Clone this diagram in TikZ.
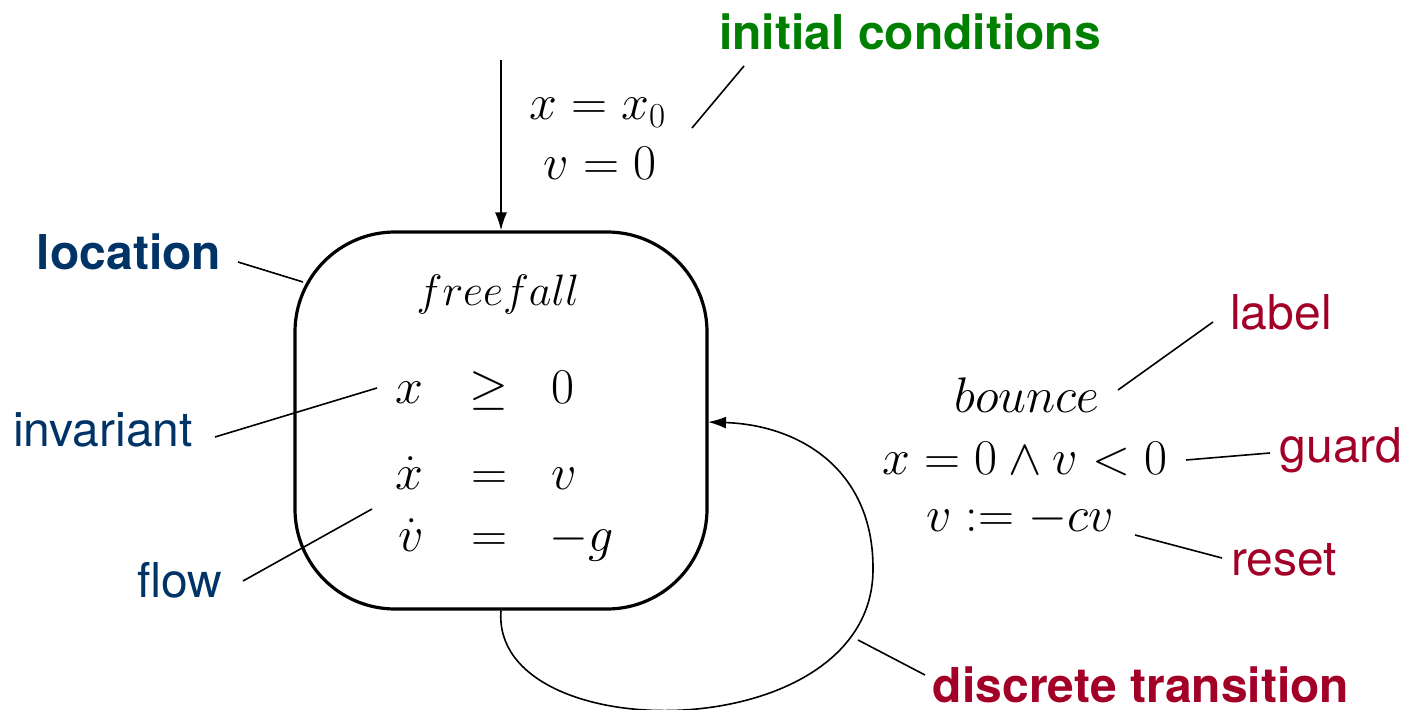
\RequirePackage{fix-cm}
\documentclass[tikz,border=0pt]{standalone}
\usepackage{amsmath}
\usepackage{fontspec}
\setsansfont{TeX Gyre Heros}
\usetikzlibrary{arrows.meta}
\definecolor{icgreen}{RGB}{0,128,0}
\definecolor{locblue}{RGB}{0,51,102}
\definecolor{trred}{RGB}{163,0,40}
\begin{document}
\begin{tikzpicture}[x=0.5pt,y=-0.5pt,
  lbl/.style={font=\sffamily\fontsize{24}{28}\selectfont, inner sep=0pt, anchor=base},
  blbl/.style={font=\sffamily\bfseries\fontsize{24}{28}\selectfont, inner sep=0pt, anchor=base},
  mth/.style={font=\fontsize{25}{30}\selectfont, inner sep=0pt, anchor=base},
  lead/.style={line width=0.8pt},
  tip/.style={-{Latex[length=9pt,width=6pt]}}]
\useasboundingbox (0,0) rectangle (1408,710);

% location box
\node[draw, line width=1.6pt, rounded corners=50pt, minimum width=206pt,
      minimum height=188.5pt, inner sep=0pt] (loc) at (501,420.5) {};

% initial transition
\coordinate (init) at (501,60);
\draw[lead, tip] (init) -- (loc.north);
\node[mth] (ic1) at (598,120) {$x = x_0$};
\node[mth] (ic2) at (600,180) {$v = 0$};
\node[blbl, text=icgreen] (ict) at (910,50) {initial conditions};
\coordinate (icA) at (692,128);
\coordinate (icB) at (744,66);
\draw[lead] (icA) -- (icB);

% location contents
\node[mth, font=\fontsize{22}{26}\selectfont] (ff) at (498,306) {$freefall$};
\node[mth, anchor=base east] (r1a) at (424,404) {$x$};
\node[mth] (r1b) at (489,404) {$\geq$};
\node[mth, anchor=base west] (r1c) at (551,404) {$0$};
\node[mth, anchor=base east] (r2a) at (424,490) {$\dot{x}$};
\node[mth] (r2b) at (489,490) {$=$};
\node[mth, anchor=base west] (r2c) at (551,490) {$v$};
\node[mth, anchor=base east] (r3a) at (424,552) {$\dot{v}$};
\node[mth] (r3b) at (489,552) {$=$};
\node[mth, anchor=base west] (r3c) at (549,552) {$-g$};

% left labels
\node[blbl, text=locblue] (locl) at (129,270) {location};
\coordinate (locA) at (238,262);
\coordinate (locB) at (303,282);
\draw[lead] (locA) -- (locB);

\node[lbl, text=locblue] (inv) at (103,447) {invariant};
\coordinate (invA) at (215,437);
\coordinate (invB) at (377,388);
\draw[lead] (invA) -- (invB);

\node[lbl, text=locblue] (flow) at (180,597) {flow};
\coordinate (flA) at (243,581);
\coordinate (flB) at (372,509);
\draw[lead] (flA) -- (flB);

% discrete transition loop
\coordinate (le) at (708,422);
\draw[lead, tip] (loc.south) .. controls (490,750) and (872,750) .. (873,570)
   .. controls (874,470) and (800,425) .. (le);

\node[mth] (bn) at (1027,413) {$bounce$};
\node[mth] (gd) at (1025,475) {$x = 0 \wedge v < 0$};
\node[mth] (rs) at (1020,532) {$v := -cv$};

\node[lbl, text=trred] (lab) at (1281,330) {label};
\coordinate (labA) at (1118,390);
\coordinate (labB) at (1213,322);
\draw[lead] (labA) -- (labB);

\node[lbl, text=trred] (grd) at (1341,463) {guard};
\coordinate (gA) at (1186,460);
\coordinate (gB) at (1270,453);
\draw[lead] (gA) -- (gB);

\node[lbl, text=trred] (rst) at (1284,575) {reset};
\coordinate (rA) at (1135,535);
\coordinate (rB) at (1222,558);
\draw[lead] (rA) -- (rB);

\node[blbl, text=trred] (dt) at (1141,702) {discrete transition};
\coordinate (dA) at (858,640);
\coordinate (dB) at (925,675);
\draw[lead] (dA) -- (dB);
\end{tikzpicture}
\end{document}
